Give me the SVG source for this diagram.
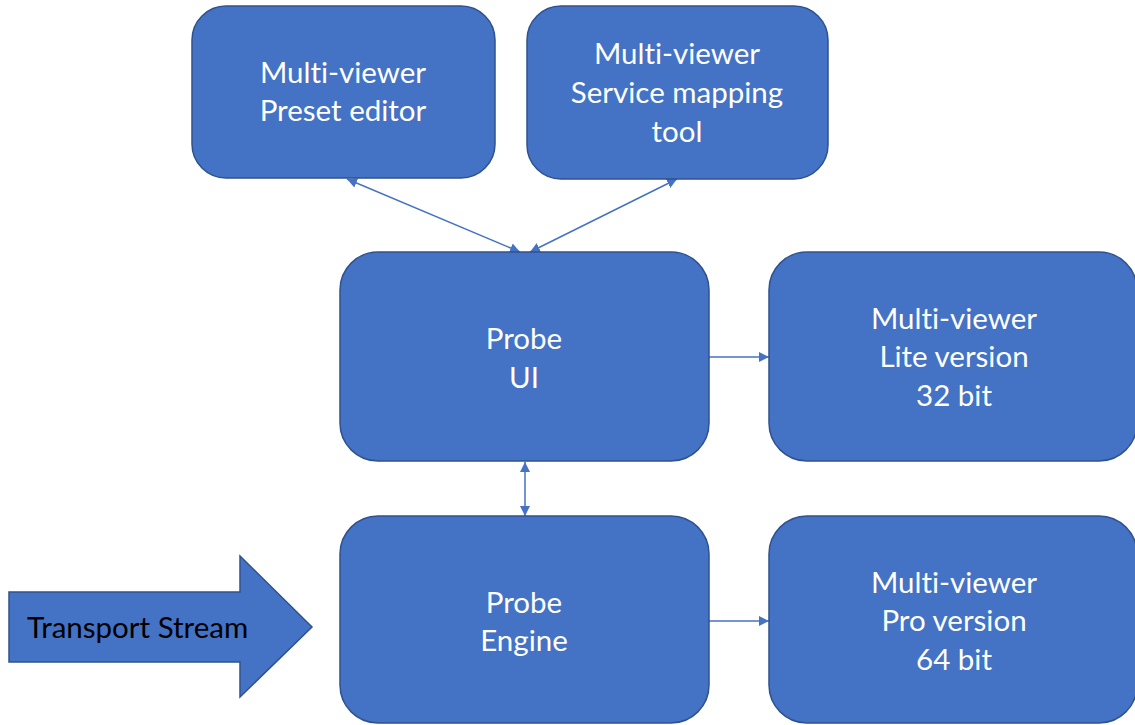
<svg xmlns="http://www.w3.org/2000/svg" width="1135" height="725" viewBox="0 0 1135 725">
<defs>
<style>
.box{fill:#4472C4;stroke:#2F528F;stroke-width:1.5}
.t{font-family:Lato,"Open Sans","Liberation Sans",sans-serif;font-size:29.5px;fill:#ffffff;text-anchor:middle;font-variant-ligatures:none}
.tb{font-family:Lato,"Open Sans","Liberation Sans",sans-serif;font-size:29.5px;fill:#000000;font-variant-ligatures:none}
.c{stroke:#4472C4;stroke-width:1.5;fill:none}
</style>
<marker id="ah" viewBox="0 0 10 10" refX="10" refY="5" markerWidth="10" markerHeight="10" markerUnits="userSpaceOnUse" orient="auto-start-reverse">
<path d="M0,0 L10,5 L0,10 z" fill="#4472C4"/>
</marker>
</defs>
<rect width="1135" height="725" fill="#ffffff"/>
<g id="connectors">
<line class="c" x1="347" y1="179" x2="520" y2="252" marker-start="url(#ah)" marker-end="url(#ah)"/>
<line class="c" x1="677" y1="179" x2="530" y2="252" marker-start="url(#ah)" marker-end="url(#ah)"/>
<line class="c" x1="709" y1="357" x2="769" y2="357" marker-end="url(#ah)"/>
<line class="c" x1="525" y1="462" x2="525" y2="516" marker-start="url(#ah)" marker-end="url(#ah)"/>
<line class="c" x1="709" y1="621" x2="769" y2="621" marker-end="url(#ah)"/>
</g>
<g id="preset-editor">
<rect class="box" x="192" y="6" width="303" height="172" rx="34"/>
<text class="t" x="343" y="83">Multi-viewer</text>
<text class="t" x="343" y="121">Preset editor</text>
</g>
<g id="service-mapping">
<rect class="box" x="527" y="6" width="301" height="173" rx="34"/>
<text class="t" x="677" y="64">Multi-viewer</text>
<text class="t" x="677" y="103">Service mapping</text>
<text class="t" x="677" y="142">tool</text>
</g>
<g id="probe-ui">
<rect class="box" x="340" y="252" width="369" height="209" rx="38"/>
<text class="t" x="524" y="349">Probe</text>
<text class="t" x="524" y="388">UI</text>
</g>
<g id="lite">
<rect class="box" x="769" y="252" width="368" height="209" rx="38"/>
<text class="t" x="954" y="329">Multi-viewer</text>
<text class="t" x="954" y="367">Lite version</text>
<text class="t" x="954" y="406">32 bit</text>
</g>
<g id="probe-engine">
<rect class="box" x="340" y="516" width="369" height="207" rx="38"/>
<text class="t" x="524" y="613">Probe</text>
<text class="t" x="524" y="651">Engine</text>
</g>
<g id="pro">
<rect class="box" x="769" y="516" width="368" height="207" rx="38"/>
<text class="t" x="954" y="593">Multi-viewer</text>
<text class="t" x="954" y="631">Pro version</text>
<text class="t" x="954" y="670">64 bit</text>
</g>
<g id="transport-stream">
<polygon class="box" points="9,592 240,592 240,556 312,627 240,697 240,662 9,662"/>
<text class="tb" x="27" y="638">Transport Stream</text>
</g>
</svg>
